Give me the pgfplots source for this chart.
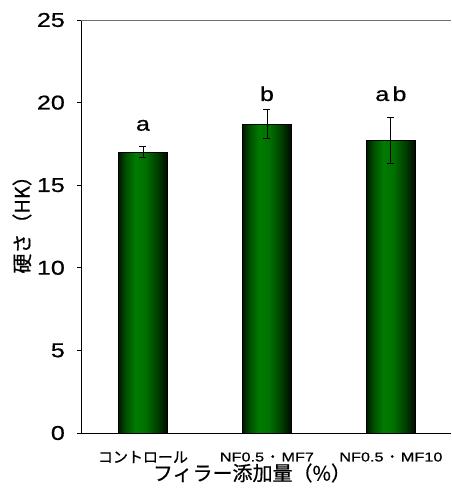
\documentclass[border=0pt]{standalone}
\usepackage{pgfplots}
\pgfplotsset{compat=1.18}
\usepackage{fontspec}
\setmainfont{Liberation Sans}
\newfontfamily\latf[FakeStretch=1.25,FakeBold=0.6]{Liberation Sans}
\newfontfamily\jpf[FakeBold=0.6]{Noto Sans CJK JP}
\definecolor{gE1}{RGB}{0,22,0}
\definecolor{gE2}{RGB}{0,80,0}
\definecolor{gmid}{RGB}{0,124,0}
\definecolor{gmid2}{RGB}{0,112,0}
\definecolor{gE3}{RGB}{0,60,0}
\definecolor{gE4}{RGB}{0,8,0}
\definecolor{topline}{RGB}{110,110,110}
\pgfdeclarehorizontalshading{barshade}{100bp}{color(0bp)=(gE1); color(25bp)=(gE1); color(32.5bp)=(gE2); color(42.5bp)=(gmid); color(52.5bp)=(gmid2); color(65bp)=(gE3); color(75bp)=(gE4); color(100bp)=(gE4)}
\pgfplotsset{
  greenbar/.style={ybar, bar width=0.4, draw=black, line width=0.6bp,
    shading=barshade,
    error bars/.cd, y dir=both, y explicit,
    error bar style={black, line width=0.8bp},
    error mark options={rotate=90, mark size=3.5bp, line width=0.8bp}},
}
\begin{document}
\begin{tikzpicture}
\begin{axis}[
  scale only axis,
  width=370bp, height=413bp,
  xmin=-0.5, xmax=2.485,
  ymin=0, ymax=25,
  ytick={0,5,10,15,20,25},
  xtick={0,1,2},
  xticklabels={{\jpf\fontsize{15bp}{15bp}\selectfont コントロール},
               {\latf\fontsize{13bp}{13bp}\selectfont NF0.5\,{\jpf ・}\,MF7},
               {\latf\fontsize{13bp}{13bp}\selectfont NF0.5\,{\jpf ・}\,MF10}},
  axis x line*=bottom,
  axis y line*=left,
  axis line style={black, line width=0.8bp, -},
  tick align=outside,
  x tick style={draw=none},
  y tick style={black, line width=0.8bp},
  major tick length=4bp,
  /pgf/number format/assume math mode=true,
  yticklabel style={font=\latf\fontsize{20bp}{20bp}\selectfont, anchor=east, inner sep=0pt, xshift=-12bp},
  xticklabel style={anchor=center, inner sep=0pt, yshift=-20bp},
  xlabel={\jpf\fontsize{20bp}{20bp}\selectfont フィラー添加量（\%）},
  xlabel style={at={(rel axis cs:0.462,0)}, anchor=center, yshift=-40bp},
  ylabel={\jpf\fontsize{20bp}{20bp}\selectfont 硬さ（HK）},
  ylabel style={at={(rel axis cs:0,0.516)}, anchor=center, rotate=0, yshift=59bp},
  clip=false,
]
\coordinate (BL) at (rel axis cs:0,0);
\coordinate (TR) at (rel axis cs:1,1);
\draw[topline, line width=0.8bp] (rel axis cs:0,1) -- (rel axis cs:1,1);
\addplot[greenbar] coordinates {(0,17.0) +- (0,0.33)};
\addplot[greenbar] coordinates {(1,18.7) +- (0,0.86)};
\addplot[greenbar] coordinates {(2,17.7) +- (0,1.38)};
\node[font=\latf\fontsize{20bp}{20bp}\selectfont, anchor=base] at (axis cs:0,18.3) {a};
\node[font=\latf\fontsize{20bp}{20bp}\selectfont, anchor=base] at (axis cs:1,20.1) {b};
\node[font=\latf\fontsize{20bp}{20bp}\selectfont, anchor=base] at (axis cs:2,20.1) {a\,b};
\end{axis}
\useasboundingbox ([shift={(-81bp,-60bp)}]BL) rectangle ([shift={(0bp,20bp)}]TR);
\end{tikzpicture}
\end{document}
